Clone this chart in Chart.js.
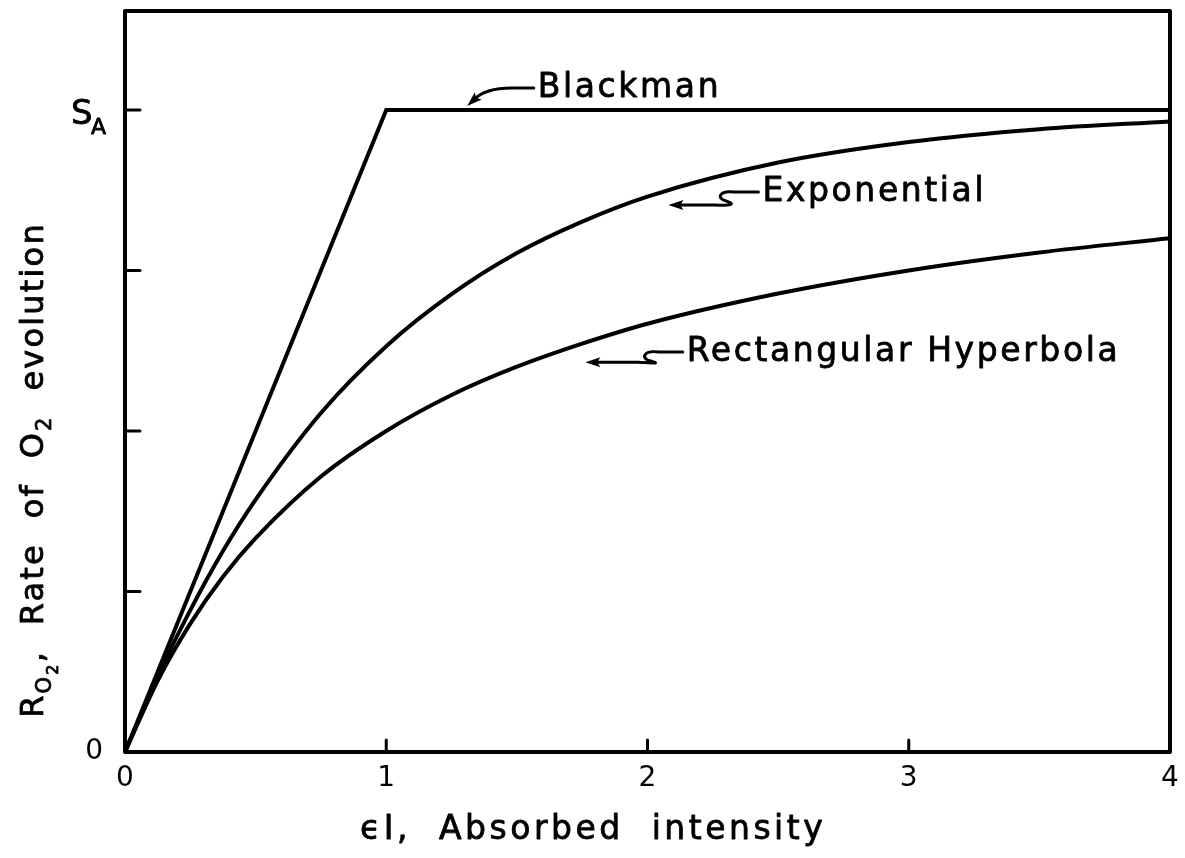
<!DOCTYPE html>
<html>
<head>
<meta charset="utf-8">
<script src="https://cdn.jsdelivr.net/npm/chart.js@4.4.1/dist/chart.umd.min.js"></script>
<style>
  html, body { margin: 0; padding: 0; background: #fff; }
</style>
</head>
<body>
<canvas id="chart" width="1185" height="858"></canvas>
<script>
// Absorbed intensity (x) and O2 rate (y, in units of S_A)
const intensity = [0, 0.125, 0.25, 0.375, 0.5, 0.75, 1, 1.25, 1.5, 1.75, 2, 2.5, 3, 3.5, 4];
const exponentialRate = [0, 0.118, 0.221, 0.313, 0.393, 0.528, 0.632, 0.713, 0.777, 0.826, 0.865, 0.918, 0.950, 0.970, 0.982];
const hyperbolaRate = [0, 0.111, 0.200, 0.273, 0.333, 0.429, 0.500, 0.556, 0.600, 0.636, 0.667, 0.714, 0.750, 0.778, 0.800];
const blackmanIntensity = [0, 1, 4];
const blackmanRate = [0, 1, 1];

const xTicks = [0, 1, 2, 3, 4];
const yTicks = [0, 0.25, 0.5, 0.75, 1];
const yTickLabels = ['0', '', '', '', ''];   // S_A is drawn by hand below

const FONT = '"DejaVu Sans", sans-serif';
const INK = '#000';

function toPoints(xs, ys) {
  return xs.map((x, i) => ({ x: x, y: ys[i] }));
}

// labels with little hand-drawn arrows, placed in data units
const notes = [
  { text: 'Blackman', x: 1.58, y: 1.034, tipX: 1.31, tipY: 1.006, kind: 'hook' },
  { text: 'Exponential', x: 2.44, y: 0.872, tipX: 2.08, tipY: 0.852, kind: 'squiggle' },
  { text: 'Rectangular Hyperbola', x: 2.15, y: 0.623, tipX: 1.762, tipY: 0.607, kind: 'squiggle' }
];

function arrowHead(ctx, x, y, angle) {
  ctx.save();
  ctx.translate(x, y);
  ctx.rotate(angle);
  ctx.beginPath();
  ctx.moveTo(0, 0);
  ctx.lineTo(15, -5);
  ctx.lineTo(12, 0);
  ctx.lineTo(15, 5);
  ctx.closePath();
  ctx.fill();
  ctx.restore();
}

// filled text with a thin outline so it reads like pen lettering
function inkText(ctx, t, x, y) {
  ctx.fillText(t, x, y);
  ctx.lineWidth = 0.8;
  ctx.strokeText(t, x, y);
}

const paperPlugin = {
  id: 'paper',
  afterDraw(chart) {
    const ctx = chart.ctx;
    const a = chart.chartArea;
    const xs = chart.scales.x;
    const ys = chart.scales.y;
    ctx.save();
    ctx.strokeStyle = INK;
    ctx.fillStyle = INK;
    ctx.lineCap = 'round';
    ctx.lineJoin = 'round';

    // frame
    ctx.lineWidth = 4;
    ctx.strokeRect(a.left, a.top, a.right - a.left, a.bottom - a.top);

    // inward tick marks
    ctx.lineWidth = 3;
    yTicks.slice(1).forEach(v => {
      const py = ys.getPixelForValue(v);
      ctx.beginPath(); ctx.moveTo(a.left, py); ctx.lineTo(a.left + 15, py); ctx.stroke();
    });
    xTicks.slice(1, -1).forEach(v => {
      const px = xs.getPixelForValue(v);
      ctx.beginPath(); ctx.moveTo(px, a.bottom); ctx.lineTo(px, a.bottom - 12); ctx.stroke();
    });

    // S_A label
    const sy = ys.getPixelForValue(1);
    ctx.textBaseline = 'alphabetic';
    ctx.textAlign = 'left';
    ctx.font = '34px ' + FONT;
    inkText(ctx, 'S', 71, sy + 14);
    ctx.font = '22px ' + FONT;
    inkText(ctx, 'A', 91, sy + 24);

    // y axis title, rotated, with subscripts
    ctx.letterSpacing = '2.2px';
    const parts = [
      { t: 'R', size: 32, dy: 0 },
      { t: 'O', size: 21, dy: 8 },
      { t: '2', size: 16, dy: 15 },
      { t: ',', size: 32, dy: 0 },
      { t: '  Rate  of  O', size: 32, dy: 0 },
      { t: '2', size: 21, dy: 8 },
      { t: '  evolution', size: 32, dy: 0 }
    ];
    let total = 0;
    parts.forEach(p => { ctx.font = p.size + 'px ' + FONT; p.w = ctx.measureText(p.t).width; total += p.w; });
    ctx.save();
    ctx.translate(43, 470);
    ctx.rotate(-Math.PI / 2);
    let cx = -total / 2;
    parts.forEach(p => {
      ctx.font = p.size + 'px ' + FONT;
      inkText(ctx, p.t, cx, p.dy);
      cx += p.w;
    });
    ctx.restore();

    // x axis title
    ctx.letterSpacing = '3.5px';
    ctx.font = '33px ' + FONT;
    ctx.textAlign = 'left';
    ctx.textBaseline = 'middle';
    inkText(ctx, '\u03F5I,  Absorbed  intensity', 360, 830);

    // curve labels and arrows
    ctx.letterSpacing = '2.6px';
    notes.forEach(n => {
      const tx = xs.getPixelForValue(n.x);
      const ty = ys.getPixelForValue(n.y);
      const px = xs.getPixelForValue(n.tipX);
      const py = ys.getPixelForValue(n.tipY);
      ctx.font = '33px ' + FONT;
      ctx.textBaseline = 'middle';
      inkText(ctx, n.text, tx, ty);
      ctx.lineWidth = 3;
      ctx.beginPath();
      const sx = tx - 4;
      if (n.kind === 'hook') {
        ctx.moveTo(sx, ty);
        ctx.lineTo(sx - 22, ty);
        ctx.quadraticCurveTo(px + 18, ty, px + 6, py - 6);
        ctx.stroke();
        arrowHead(ctx, px, py, -0.75);
      } else {
        ctx.moveTo(sx, ty);
        ctx.lineTo(sx - 24, ty);
        ctx.bezierCurveTo(sx - 40, ty - 2, sx - 42, ty + 7, sx - 32, ty + 9);
        ctx.bezierCurveTo(sx - 22, ty + 12, sx - 28, py + 1, sx - 44, py);
        ctx.lineTo(px + 10, py);
        ctx.stroke();
        arrowHead(ctx, px, py, 0);
      }
    });
    ctx.restore();
  }
};

const lineStyle = {
  borderColor: INK,
  borderWidth: 4,
  pointRadius: 0,
  fill: false
};

new Chart(document.getElementById('chart').getContext('2d'), {
  type: 'line',
  data: {
    datasets: [
      Object.assign({ label: 'Blackman', data: toPoints(blackmanIntensity, blackmanRate), tension: 0 }, lineStyle),
      Object.assign({ label: 'Exponential', data: toPoints(intensity, exponentialRate), cubicInterpolationMode: 'monotone' }, lineStyle),
      Object.assign({ label: 'Rectangular Hyperbola', data: toPoints(intensity, hyperbolaRate), cubicInterpolationMode: 'monotone' }, lineStyle)
    ]
  },
  options: {
    responsive: false,
    animation: false,
    layout: { padding: { left: 0, right: 15, top: 11, bottom: 0 } },
    plugins: { legend: { display: false }, tooltip: { enabled: false } },
    scales: {
      x: {
        type: 'linear',
        min: 0,
        max: 4,
        afterBuildTicks: s => { s.ticks = xTicks.map(v => ({ value: v })); },
        afterFit: s => { s.height = 106; s.paddingLeft = 0; s.paddingRight = 0; },
        grid: { display: false, drawTicks: false },
        border: { display: false },
        ticks: { color: INK, font: { family: FONT, size: 28 }, padding: 10, maxRotation: 0 }
      },
      y: {
        type: 'linear',
        min: 0,
        max: 1.154,
        afterBuildTicks: s => { s.ticks = yTicks.map(v => ({ value: v })); },
        afterFit: s => { s.width = 125; s.paddingTop = 0; s.paddingBottom = 0; },
        grid: { display: false, drawTicks: false },
        border: { display: false },
        ticks: {
          color: INK,
          font: { family: FONT, size: 28 },
          padding: 22,
          callback: (v) => yTickLabels[yTicks.indexOf(v)]
        }
      }
    }
  },
  plugins: [paperPlugin]
});
</script>
</body>
</html>
